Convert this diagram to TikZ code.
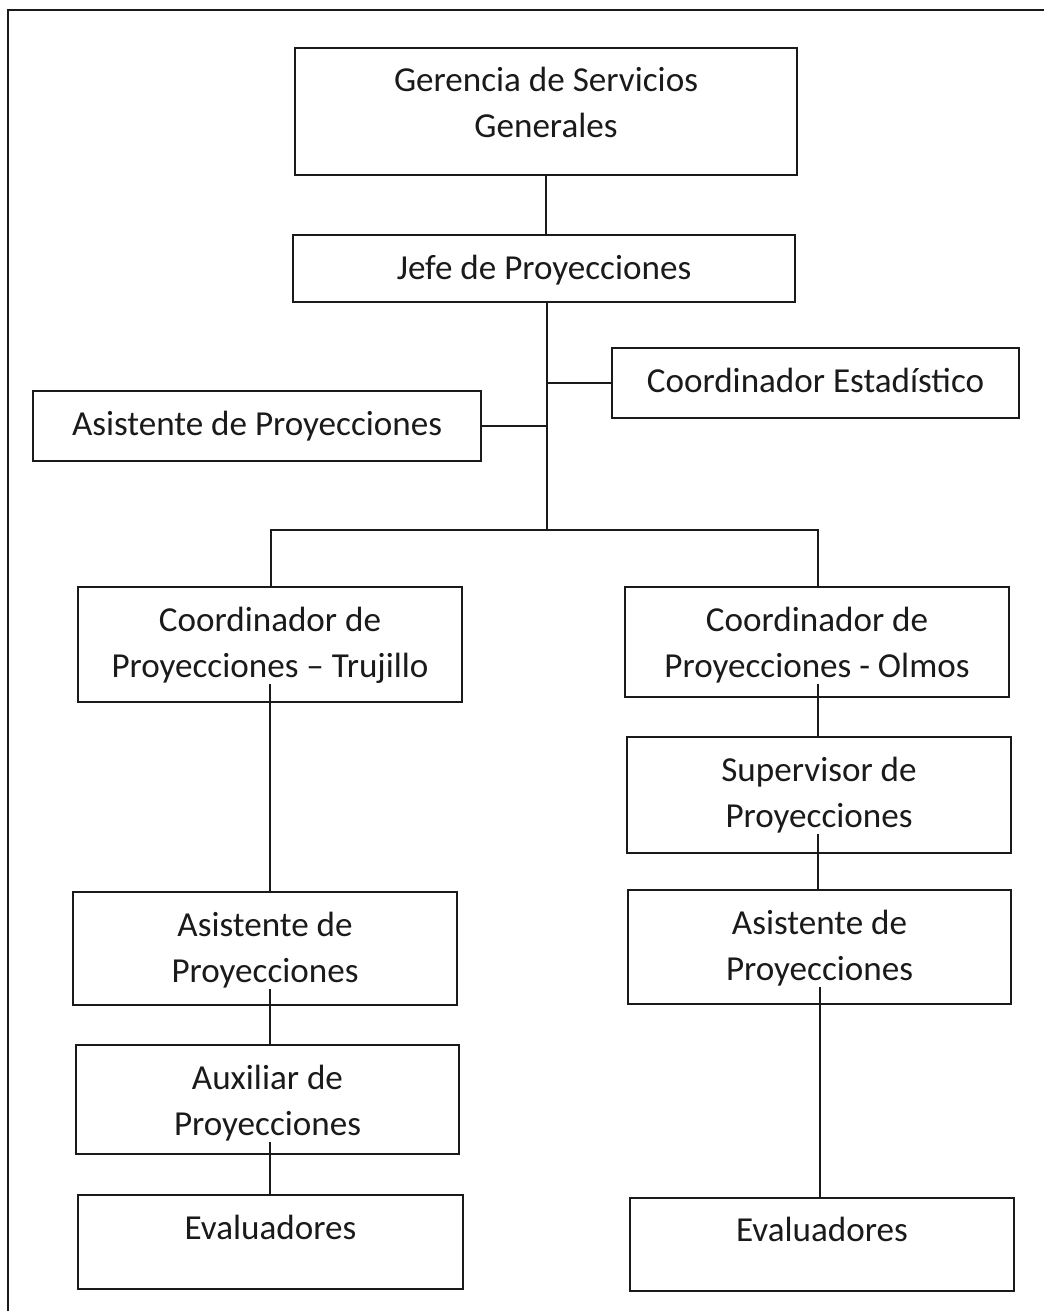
\documentclass[tikz,border=0pt]{standalone}
\usepackage{fontspec}
\setmainfont{Carlito}
\definecolor{ink}{HTML}{1A1A1A}

\tikzset{
  orgbox/.style={draw=ink, line width=2.4pt, rectangle, inner sep=0pt, outer sep=0pt},
  lbl/.style={font=\fontsize{35.1}{46}\selectfont, text=ink, inner sep=1pt, anchor=base, yshift=-2pt},
  link/.style={draw=ink, line width=2.4pt},
  frame/.style={draw=ink, line width=2.4pt},
}

% box given by left, top, right, bottom (one unit = one point, y downwards)
\newcommand\boxLTRB[5]{%
  \node[orgbox, minimum width={(#4-#2)*1pt}, minimum height={(#5-#3)*1pt}]
    (#1) at ({(#2+#4)/2},{(#3+#5)/2}) {};}

\begin{document}
\begin{tikzpicture}[x=1pt, y=-1pt]
  \useasboundingbox (0,0) rectangle (1044,1311);

  % page frame (left and top edges)
  \coordinate (fTL) at (8,10);
  \coordinate (fTR) at (1044,10);
  \coordinate (fBL) at (8,1311);
  \draw[frame] (fBL) -- (fTL) -- (fTR);

  % boxes
  \boxLTRB{ger}{295}{48}{797}{175}
  \boxLTRB{jefe}{293}{235}{795}{302}
  \boxLTRB{coord}{612}{348}{1019}{418}
  \boxLTRB{asisP}{33}{391}{481}{461}
  \boxLTRB{truj}{78}{587}{462}{702}
  \boxLTRB{olm}{625}{587}{1009}{697}
  \boxLTRB{sup}{627}{737}{1011}{853}
  \boxLTRB{asiL}{73}{892}{457}{1005}
  \boxLTRB{asiR}{628}{890}{1011}{1004}
  \boxLTRB{aux}{76}{1045}{459}{1154}
  \boxLTRB{evL}{78}{1195}{463}{1289}
  \boxLTRB{evR}{630}{1198}{1014}{1291}

  % labels
  \node[lbl] (gerA) at (546,90) {Gerencia de Servicios};
  \node[lbl] (gerB) at (546,136) {Generales};
  \node[lbl] (jefeA) at (544,277) {Jefe de Proyecciones};
  \node[lbl] (coordA) at (815.5,390) {Coordinador Estadístico};
  \node[lbl] (asisPA) at (257,433) {Asistente de Proyecciones};
  \node[lbl] (trujA) at (270,629) {Coordinador de};
  \node[lbl] (trujB) at (270,675) {Proyecciones – Trujillo};
  \node[lbl] (olmA) at (817,629) {Coordinador de};
  \node[lbl] (olmB) at (817,675) {Proyecciones - Olmos};
  \node[lbl] (supA) at (819,779) {Supervisor de};
  \node[lbl] (supB) at (819,825) {Proyecciones};
  \node[lbl] (asiLA) at (265,934) {Asistente de};
  \node[lbl] (asiLB) at (265,980) {Proyecciones};
  \node[lbl] (asiRA) at (819.5,932) {Asistente de};
  \node[lbl] (asiRB) at (819.5,978) {Proyecciones};
  \node[lbl] (auxA) at (267.5,1087) {Auxiliar de};
  \node[lbl] (auxB) at (267.5,1133) {Proyecciones};
  \node[lbl] (evLA) at (270.5,1237) {Evaluadores};
  \node[lbl] (evRA) at (822,1239) {Evaluadores};

  % top of the tree
  \draw[link] (ger.south) -- (ger.south |- jefe.north);
  \coordinate (trunkTop) at (547,302);
  \coordinate (bus) at (547,530);
  \draw[link] (trunkTop) -- (bus);
  \draw[link] (coord.west) -- (coord.west -| bus);
  \draw[link] (asisP.east) -- (asisP.east -| bus);

  % branches to the two coordinators
  \coordinate (busL) at (271,530);
  \coordinate (busR) at (818,530);
  \draw[link] (truj.north -| busL) -- (busL) -- (busR) -- (olm.north -| busR);

  % Trujillo chain
  \draw[link] (trujB.south) -- (trujB.south |- asiL.north);
  \draw[link] (asiLB.south -| trujB.south) -- (trujB.south |- aux.north);
  \draw[link] (auxB.south -| trujB.south) -- (trujB.south |- evL.north);

  % Olmos chain
  \draw[link] (olmB.south -| busR) -- (busR |- sup.north);
  \draw[link] (supB.south -| busR) -- (busR |- asiR.north);
  \draw[link] (asiRB.south -| 820,0) -- (820,0 |- evR.north);
\end{tikzpicture}
\end{document}
